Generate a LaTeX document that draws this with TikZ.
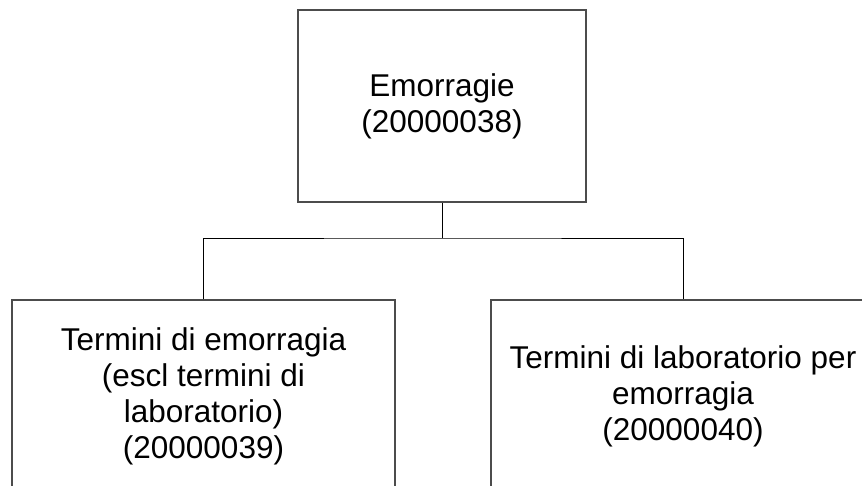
\documentclass[tikz,border=0pt]{standalone}
\usepackage{fontspec}
\setmainfont{Liberation Sans}
\usepackage{tikz}

\tikzset{
  termbox/.style={draw=black!70,line width=1.2pt,rectangle,align=center,
    font=\fontsize{31.5}{36}\selectfont,inner sep=0pt},
  link/.style={draw=black,line width=0.8pt}
}

\begin{document}
\begin{tikzpicture}[x=1pt,y=-1pt]
            \clip (0,0) rectangle (862,486);
            \fill[white] (0,0) rectangle (862,486);

            \node[termbox,minimum width=288pt,minimum height=192pt] (top) at (442,106)
                {Emorragie\\(20000038)};
            \node[termbox,minimum width=383pt,minimum height=192pt] (left) at (203.5,396)
                {Termini di emorragia\\(escl termini di\\laboratorio)\\(20000039)};
            \node[termbox,minimum width=384pt,minimum height=192pt] (right) at (683,396)
                {Termini di laboratorio per\\emorragia\\(20000040)};

            \coordinate (bar) at (442,238);
            \draw[link](top.south)--(bar);
            \draw[link](left.north)|-(bar)-|(right.north);

        \end{tikzpicture}
\end{document}
